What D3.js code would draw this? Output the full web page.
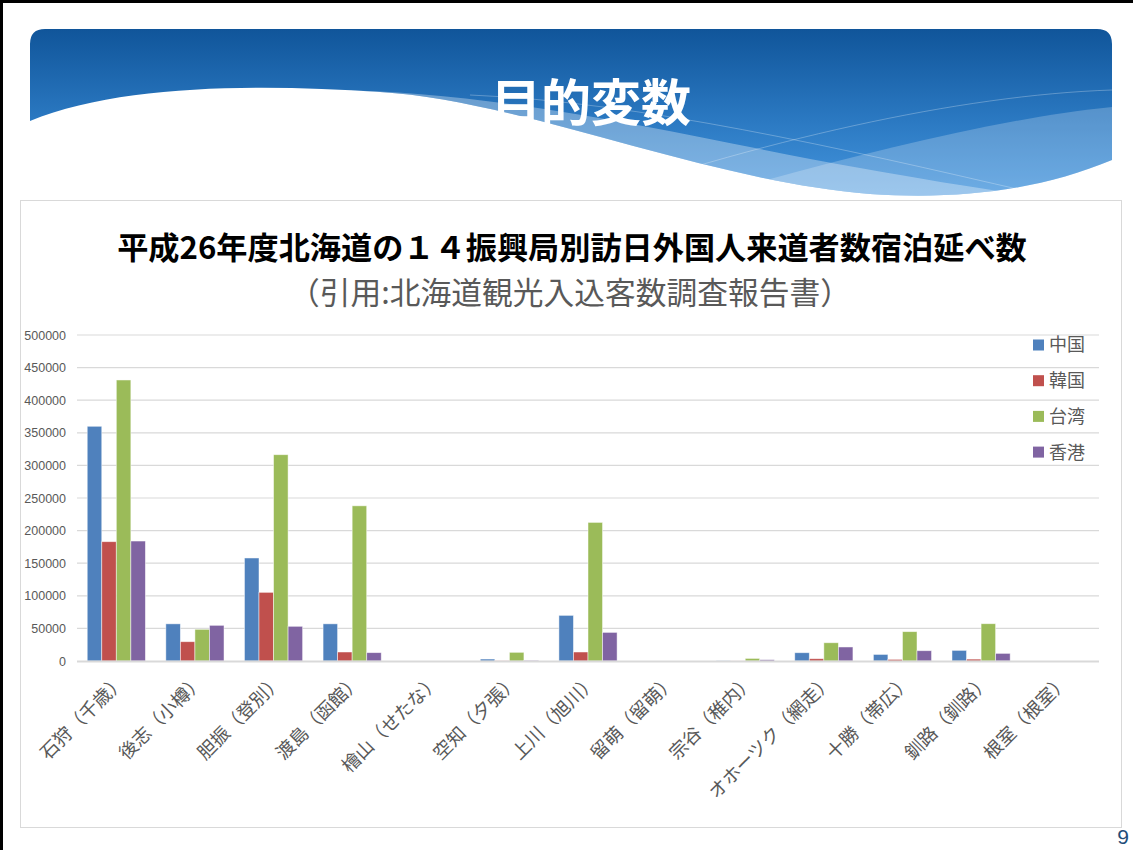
<!DOCTYPE html>
<html>
<head>
<meta charset="utf-8">
<script src="https://cdn.jsdelivr.net/npm/d3@7"></script>
<style>
  body { margin: 0; background: #fff; }
  svg { display: block; }
</style>
</head>
<body>
<div id="chart"></div>
<script>
// data
const categories = ["石狩（千歳）", "後志（小樽）", "胆振（登別）", "渡島（函館）", "檜山（せたな）", "空知（夕張）",
  "上川（旭川）", "留萌（留萌）", "宗谷（稚内）", "オホーツク（網走）", "十勝（帯広）", "釧路（釧路）", "根室（根室）"];
const seriesNames = ["中国", "韓国", "台湾", "香港"];
const china    = [360000, 57000, 158000, 57000, 0, 3000, 70000, 0, 300, 12700, 10100, 16300, 0];
const korea    = [183000, 29600, 105300, 13800, 0, 300, 13800, 0, 100, 3500, 2500, 2900, 0];
const taiwan   = [431000, 48600, 316400, 238000, 0, 13300, 212600, 0, 4000, 28000, 45000, 57200, 0];
const hongkong = [184000, 54700, 53200, 12800, 0, 1000, 43900, 0, 2000, 21500, 15800, 11700, 0];
const yTicks = [0, 50000, 100000, 150000, 200000, 250000, 300000, 350000, 400000, 450000, 500000];
const colors = ["#4F81BD", "#C0504D", "#9BBB59", "#8064A2"];

const W = 1133, H = 850;
const plot = {left: 77, right: 1099, top: 335, bottom: 661};
const jp = "'Noto Sans CJK JP', 'Noto Sans', sans-serif";

const svg = d3.select("#chart")
  .append("svg")
  .attr("width", W)
  .attr("height", H);

// slide frame (top + left edges)
svg.append("line").attr("x1", 0).attr("y1", 1.5).attr("x2", W).attr("y2", 1.5)
  .attr("stroke", "#000").attr("stroke-width", 3);
svg.append("line").attr("x1", 1.5).attr("y1", 0).attr("x2", 1.5).attr("y2", H)
  .attr("stroke", "#000").attr("stroke-width", 3);

// ---- banner ----
const defs = svg.append("defs");
const grad = defs.append("linearGradient").attr("id", "bannerGrad")
  .attr("x1", 0).attr("y1", 0).attr("x2", 0).attr("y2", 1);
grad.append("stop").attr("offset", "0%").attr("stop-color", "#10559A");
grad.append("stop").attr("offset", "55%").attr("stop-color", "#2B79C2");
grad.append("stop").attr("offset", "100%").attr("stop-color", "#4596DE");

const bannerPath = "M30,44 Q30,29 45,29 L1097,29 Q1112,29 1112,44 L1112,160 " +
  "C1040,190 960,200 870,194 C700,180 520,100 380,92 C260,84 120,84 30,121 Z";
defs.append("clipPath").attr("id", "bannerClip").append("path").attr("d", bannerPath);

svg.append("path").attr("d", bannerPath).attr("fill", "url(#bannerGrad)");
const waves = svg.append("g").attr("clip-path", "url(#bannerClip)");
waves.append("path")
  .attr("d", "M330,90 C520,92 700,140 860,168 C960,186 1050,200 1120,205 L1120,220 L300,220 Z")
  .attr("fill", "#fff").attr("fill-opacity", 0.32);
waves.append("path")
  .attr("d", "M640,215 C800,170 980,120 1112,107 L1120,107 L1120,220 Z")
  .attr("fill", "#fff").attr("fill-opacity", 0.22);
waves.append("path")
  .attr("d", "M560,210 C760,140 960,95 1112,90")
  .attr("fill", "none").attr("stroke", "#fff").attr("stroke-opacity", 0.35).attr("stroke-width", 0.8);
waves.append("path")
  .attr("d", "M470,95 C640,102 840,148 1030,192")
  .attr("fill", "none").attr("stroke", "#fff").attr("stroke-opacity", 0.35).attr("stroke-width", 0.8);

svg.append("text")
  .text("目的変数")
  .attr("x", 591).attr("y", 121)
  .attr("text-anchor", "middle")
  .attr("font-family", jp)
  .attr("font-weight", 700)
  .attr("font-size", 50)
  .attr("fill", "#fff");

// ---- chart box ----
svg.append("rect")
  .attr("x", 20.5).attr("y", 200.5).attr("width", 1101).attr("height", 627)
  .attr("fill", "#fff").attr("stroke", "#D9D9D9");

// fit a text element to a given width by scaling its font size
function fitText(sel, targetWidth) {
  const w = sel.node().getComputedTextLength();
  const fs = parseFloat(sel.attr("font-size"));
  sel.attr("font-size", fs * targetWidth / w);
}

const title = svg.append("text")
  .text("平成26年度北海道の１４振興局別訪日外国人来道者数宿泊延べ数")
  .attr("x", 572).attr("y", 259)
  .attr("text-anchor", "middle")
  .attr("font-family", jp)
  .attr("font-weight", 700)
  .attr("font-size", 28)
  .attr("fill", "#000");
fitText(title, 910);

const subtitle = svg.append("text")
  .text("（引用:北海道観光入込客数調査報告書）")
  .attr("x", 570).attr("y", 304)
  .attr("text-anchor", "middle")
  .attr("font-family", jp)
  .attr("font-size", 30)
  .attr("fill", "#595959");
fitText(subtitle, 562);

// ---- scales ----
const x0 = d3.scaleBand()
  .domain(categories)
  .range([plot.left, plot.right])
  .paddingInner(0.26)
  .paddingOuter(0.13);

const x1 = d3.scaleBand()
  .domain(seriesNames)
  .range([0, x0.bandwidth()]);

const y = d3.scaleLinear()
  .domain([0, 500000])
  .range([plot.bottom, plot.top]);

// gridlines
svg.append("g")
  .selectAll("line")
  .data(yTicks.slice(1))
  .join("line")
    .attr("x1", plot.left).attr("x2", plot.right)
    .attr("y1", d => y(d)).attr("y2", d => y(d))
    .attr("stroke", "#D9D9D9")
    .attr("stroke-width", 1.2);

// y axis labels
const yAxis = svg.append("g")
  .attr("transform", `translate(${plot.left},0)`)
  .call(d3.axisLeft(y).tickValues(yTicks).tickFormat(d3.format("d")).tickSize(0).tickPadding(11));
yAxis.select(".domain").remove();
yAxis.selectAll("text")
  .attr("font-family", "'Liberation Sans Narrow', 'Liberation Sans', sans-serif")
  .attr("font-size", 12.5)
  .attr("fill", "#595959");

// bars
const table = categories.map((c, i) => ({
  cat: c,
  values: [china[i], korea[i], taiwan[i], hongkong[i]]
}));

svg.append("g")
  .selectAll("g")
  .data(table)
  .join("g")
    .attr("transform", d => `translate(${x0(d.cat)},0)`)
  .selectAll("rect")
  .data(d => d.values.map((v, k) => ({key: seriesNames[k], value: v, k: k})))
  .join("rect")
    .attr("x", d => x1(d.key))
    .attr("y", d => y(d.value))
    .attr("width", x1.bandwidth())
    .attr("height", d => y(0) - y(d.value))
    .attr("fill", d => colors[d.k])
    .attr("stroke", "#fff")
    .attr("stroke-opacity", 0.6)
    .attr("stroke-width", 0.8);

// baseline
svg.append("line")
  .attr("x1", plot.left).attr("x2", plot.right)
  .attr("y1", y(0) + 0.5).attr("y2", y(0) + 0.5)
  .attr("stroke", "#D9D9D9")
  .attr("stroke-width", 2);

// x axis labels (rotated)
svg.append("g")
  .selectAll("text")
  .data(categories)
  .join("text")
    .text(d => d)
    .attr("transform", d => `translate(${x0(d) + x0.bandwidth() / 2 + 3},675) rotate(-45)`)
    .attr("text-anchor", "end")
    .attr("dy", "0.55em")
    .attr("font-family", jp)
    .attr("font-size", 18.5)
    .attr("fill", "#595959");

// legend
const legend = svg.append("g")
  .selectAll("g")
  .data(seriesNames)
  .join("g")
    .attr("transform", (d, i) => `translate(1033,${345 + i * 35.7})`);
legend.append("rect")
  .attr("x", 0).attr("y", -5.5)
  .attr("width", 11).attr("height", 11)
  .attr("fill", (d, i) => colors[i]);
legend.append("text")
  .text(d => d)
  .attr("x", 16).attr("y", 0)
  .attr("dy", "0.36em")
  .attr("font-family", jp)
  .attr("font-size", 18)
  .attr("fill", "#595959");

// page number
svg.append("text")
  .text("9")
  .attr("x", 1129).attr("y", 844)
  .attr("text-anchor", "end")
  .attr("font-family", "'Liberation Sans', sans-serif")
  .attr("font-size", 21)
  .attr("fill", "#1F4E79");
</script>
</body>
</html>
